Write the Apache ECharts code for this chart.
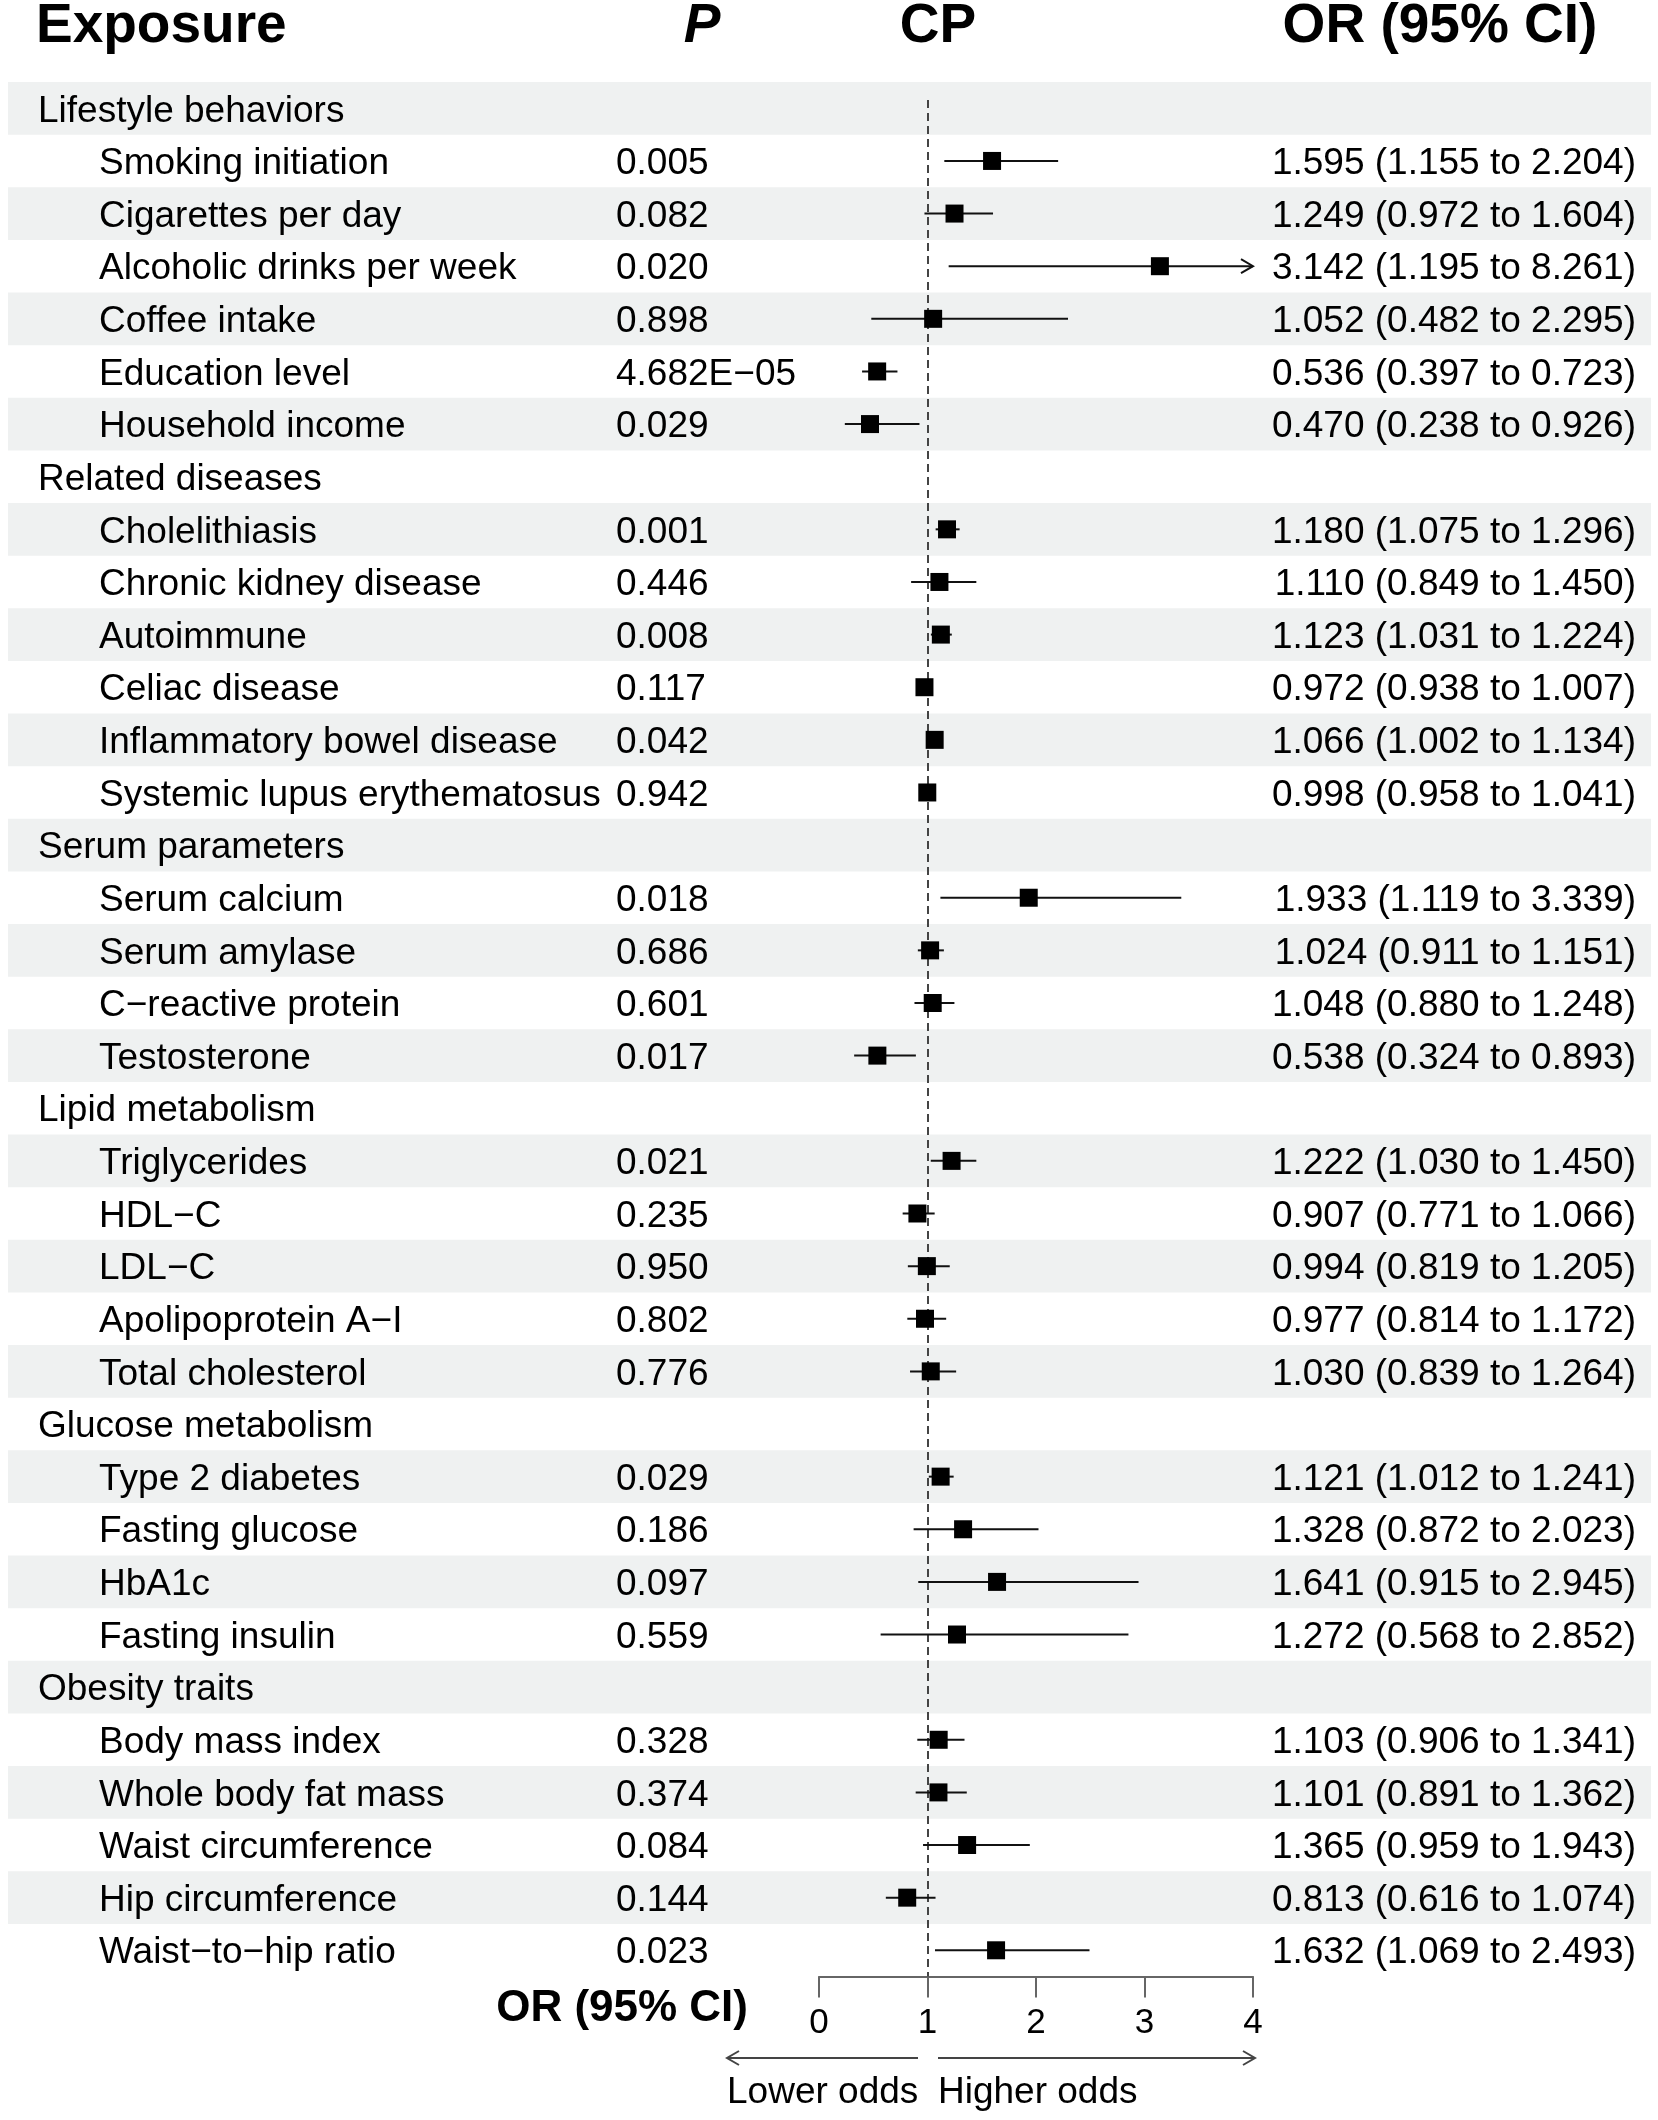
<!DOCTYPE html>
<html><head><meta charset="utf-8">
<script src="https://cdn.jsdelivr.net/npm/echarts@6/dist/echarts.min.js"></script>
<style>html,body{margin:0;padding:0;background:#fff}#c{width:1658px;height:2120px}</style>
</head><body><div id="c"></div>
<script>
const exposures = [
  'Lifestyle behaviors','Smoking initiation','Cigarettes per day','Alcoholic drinks per week','Coffee intake','Education level','Household income',
  'Related diseases','Cholelithiasis','Chronic kidney disease','Autoimmune','Celiac disease','Inflammatory bowel disease','Systemic lupus erythematosus',
  'Serum parameters','Serum calcium','Serum amylase','C\u2212reactive protein','Testosterone',
  'Lipid metabolism','Triglycerides','HDL\u2212C','LDL\u2212C','Apolipoprotein A\u2212I','Total cholesterol',
  'Glucose metabolism','Type 2 diabetes','Fasting glucose','HbA1c','Fasting insulin',
  'Obesity traits','Body mass index','Whole body fat mass','Waist circumference','Hip circumference','Waist\u2212to\u2212hip ratio'
];
const pValues = [
  '','0.005','0.082','0.020','0.898','4.682E\u221205','0.029',
  '','0.001','0.446','0.008','0.117','0.042','0.942',
  '','0.018','0.686','0.601','0.017',
  '','0.021','0.235','0.950','0.802','0.776',
  '','0.029','0.186','0.097','0.559',
  '','0.328','0.374','0.084','0.144','0.023'
];
const orValues = [
  null,1.595,1.249,3.142,1.052,0.536,0.470,
  null,1.180,1.110,1.123,0.972,1.066,0.998,
  null,1.933,1.024,1.048,0.538,
  null,1.222,0.907,0.994,0.977,1.030,
  null,1.121,1.328,1.641,1.272,
  null,1.103,1.101,1.365,0.813,1.632
];
const ciLower = [
  null,1.155,0.972,1.195,0.482,0.397,0.238,
  null,1.075,0.849,1.031,0.938,1.002,0.958,
  null,1.119,0.911,0.880,0.324,
  null,1.030,0.771,0.819,0.814,0.839,
  null,1.012,0.872,0.915,0.568,
  null,0.906,0.891,0.959,0.616,1.069
];
const ciUpper = [
  null,2.204,1.604,8.261,2.295,0.723,0.926,
  null,1.296,1.450,1.224,1.007,1.134,1.041,
  null,3.339,1.151,1.248,0.893,
  null,1.450,1.066,1.205,1.172,1.264,
  null,1.241,2.023,2.945,2.852,
  null,1.341,1.362,1.943,1.074,2.493
];
const xTicks = [0, 1, 2, 3, 4];
const headers = ['Exposure', 'P', 'CP', 'OR (95% CI)'];

const FONT = 'Liberation Sans, Arial, Helvetica, sans-serif';
const nRows = exposures.length;
const xMin = xTicks[0], xMax = xTicks[xTicks.length - 1];
const isHeader = i => orValues[i] === null;
const fmt = v => v.toFixed(3);

const chart = echarts.init(document.getElementById('c'), null, {renderer: 'canvas'});

const rowIdx = exposures.map((_, i) => i);
const forestData = rowIdx.filter(i => !isHeader(i)).map(i => [ciLower[i], ciUpper[i], orValues[i], i]);
const bandData = rowIdx.filter(i => i % 2 === 0).map(i => [0, i]);
const textData = rowIdx.map(i => [0, i]);

const gridTop = 82, gridHeight = 1894.6;
const TXT = 37, TXT_DY = 3;

const option = {
  animation: false,
  backgroundColor: '#ffffff',
  grid: [
    {left: 819, top: gridTop, width: 434, height: gridHeight},
    {left: 0, top: gridTop, width: 1658, height: gridHeight}
  ],
  xAxis: [
    {
      type: 'value', gridIndex: 0, min: xMin, max: xMax, interval: 1,
      axisLine: {show: true, onZero: false, lineStyle: {color: '#666', width: 2}},
      axisTick: {show: true, length: 21, lineStyle: {color: '#666', width: 2}},
      axisLabel: {show: true, margin: 29, fontSize: 35, color: '#000', fontFamily: FONT},
      splitLine: {show: false}
    },
    {type: 'value', gridIndex: 1, min: 0, max: 1658, show: false}
  ],
  yAxis: [
    {type: 'value', gridIndex: 0, min: -0.5, max: nRows - 0.5, inverse: true, show: false},
    {type: 'value', gridIndex: 1, min: -0.5, max: nRows - 0.5, inverse: true, show: false}
  ],
  series: [
    {
      type: 'custom', xAxisIndex: 1, yAxisIndex: 1, z: 1, silent: true,
      data: bandData, encode: {x: 0, y: 1},
      renderItem: function (params, api) {
        const r = api.value(1);
        const a = api.coord([8, r - 0.5]);
        const b = api.coord([1651, r + 0.5]);
        return {type: 'rect', shape: {x: a[0], y: a[1], width: b[0] - a[0], height: b[1] - a[1]},
                style: {fill: '#eff1f1'}};
      }
    },
    {
      type: 'custom', xAxisIndex: 1, yAxisIndex: 1, z: 5, silent: true,
      data: textData, encode: {x: 0, y: 1},
      renderItem: function (params, api) {
        const r = api.value(1);
        const y = api.coord([0, r])[1] + TXT_DY;
        const children = [];
        const hdr = isHeader(r);
        children.push({type: 'text', style: {text: exposures[r], x: hdr ? 38 : 99, y: y,
          fontSize: TXT, fontFamily: FONT, fill: '#000', align: 'left', verticalAlign: 'middle'}});
        if (!hdr) {
          children.push({type: 'text', style: {text: pValues[r], x: 616, y: y,
            fontSize: TXT, fontFamily: FONT, fill: '#000', align: 'left', verticalAlign: 'middle'}});
          children.push({type: 'text', style: {
            text: fmt(orValues[r]) + ' (' + fmt(ciLower[r]) + ' to ' + fmt(ciUpper[r]) + ')',
            x: 1636, y: y, fontSize: TXT, fontFamily: FONT, fill: '#000', align: 'right', verticalAlign: 'middle'}});
        }
        return {type: 'group', children: children};
      }
    },
    {
      type: 'custom', xAxisIndex: 0, yAxisIndex: 0, z: 10, silent: true,
      data: forestData, encode: {x: [0, 1, 2], y: 3},
      renderItem: function (params, api) {
        const lo = api.value(0), hi = api.value(1), est = api.value(2), r = api.value(3);
        const p1 = api.coord([Math.max(lo, xMin), r]);
        const p2 = api.coord([Math.min(hi, xMax), r]);
        const pe = api.coord([est, r]);
        const s = 18;
        const children = [
          {type: 'line', shape: {x1: p1[0], y1: p1[1], x2: p2[0], y2: p2[1]},
           style: {stroke: '#111', lineWidth: 2}}
        ];
        if (hi > xMax) {
          children.push({type: 'polyline', shape: {points: [[p2[0] - 12, p2[1] - 7], [p2[0], p2[1]], [p2[0] - 12, p2[1] + 7]]},
            style: {stroke: '#111', lineWidth: 2, fill: null}});
        }
        children.push({type: 'rect', shape: {x: pe[0] - s / 2, y: pe[1] - s / 2, width: s, height: s},
          style: {fill: '#000'}});
        return {type: 'group', children: children};
      },
      markLine: {
        silent: true, symbol: ['none', 'none'], label: {show: false},
        lineStyle: {type: [8, 5], color: '#444', width: 2},
        data: [[{coord: [1, -0.16]}, {coord: [1, nRows - 0.5]}]]
      }
    }
  ],
  graphic: [
    {type: 'text', z: 20, style: {text: headers[0], x: 36, y: 27, fontSize: 55, fontWeight: 'bold', fontFamily: FONT, fill: '#000', align: 'left', verticalAlign: 'middle'}},
    {type: 'text', z: 20, style: {text: headers[1], x: 702, y: 27, fontSize: 55, fontWeight: 'bold', fontStyle: 'italic', fontFamily: FONT, fill: '#000', align: 'center', verticalAlign: 'middle'}},
    {type: 'text', z: 20, style: {text: headers[2], x: 938, y: 27, fontSize: 55, fontWeight: 'bold', fontFamily: FONT, fill: '#000', align: 'center', verticalAlign: 'middle'}},
    {type: 'text', z: 20, style: {text: headers[3], x: 1440, y: 27, fontSize: 55, fontWeight: 'bold', fontFamily: FONT, fill: '#000', align: 'center', verticalAlign: 'middle'}},
    {type: 'text', z: 20, style: {text: 'OR (95% CI)', x: 748, y: 2009, fontSize: 44, fontWeight: 'bold', fontFamily: FONT, fill: '#000', align: 'right', verticalAlign: 'middle'}},
    {type: 'line', z: 20, shape: {x1: 918, y1: 2058, x2: 727, y2: 2058}, style: {stroke: '#444', lineWidth: 2}},
    {type: 'polyline', z: 20, shape: {points: [[739, 2051], [727, 2058], [739, 2065]]}, style: {stroke: '#444', lineWidth: 2, fill: null}},
    {type: 'line', z: 20, shape: {x1: 938, y1: 2058, x2: 1255, y2: 2058}, style: {stroke: '#444', lineWidth: 2}},
    {type: 'polyline', z: 20, shape: {points: [[1243, 2051], [1255, 2058], [1243, 2065]]}, style: {stroke: '#444', lineWidth: 2, fill: null}},
    {type: 'text', z: 20, style: {text: 'Lower odds', x: 727, y: 2093, fontSize: TXT, fontFamily: FONT, fill: '#000', align: 'left', verticalAlign: 'middle'}},
    {type: 'text', z: 20, style: {text: 'Higher odds', x: 938, y: 2093, fontSize: TXT, fontFamily: FONT, fill: '#000', align: 'left', verticalAlign: 'middle'}}
  ]
};
chart.setOption(option);
</script>
</body></html>
